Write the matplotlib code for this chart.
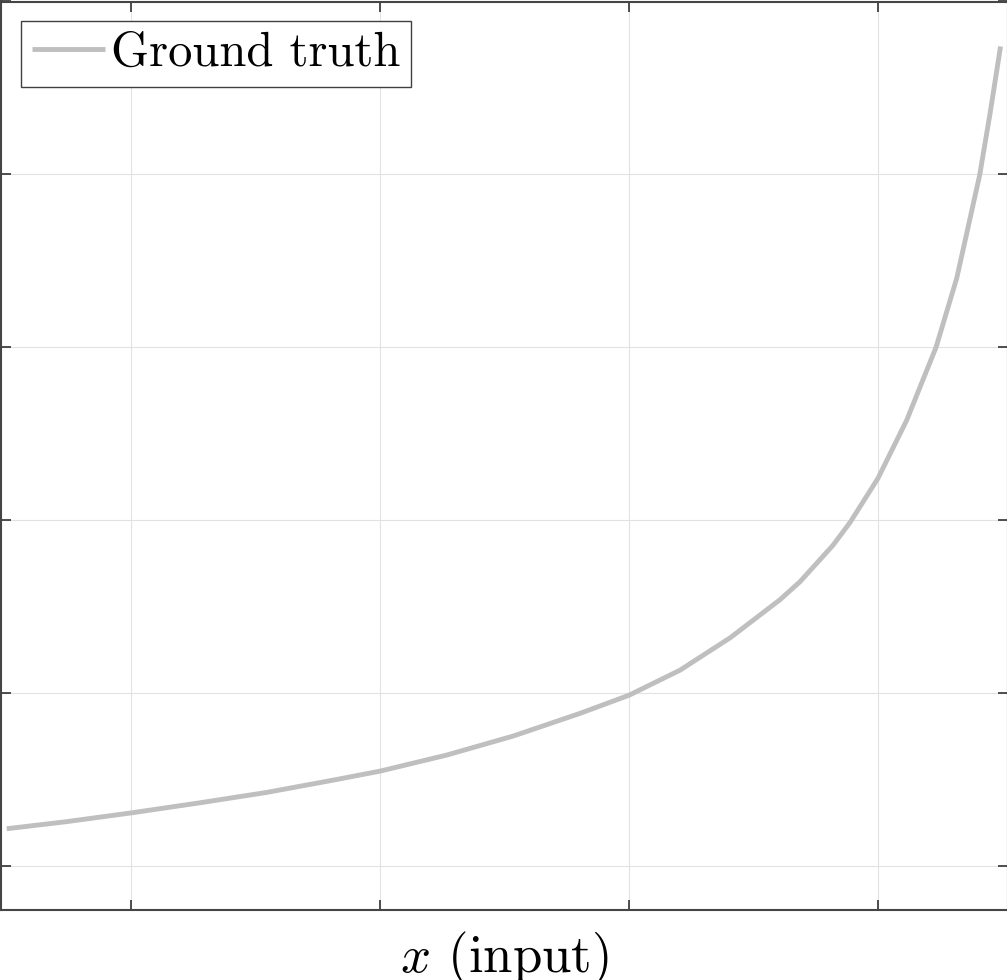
import matplotlib
matplotlib.use("Agg")
import matplotlib.pyplot as plt

plt.rcParams['font.family'] = 'serif'
plt.rcParams['font.serif'] = ['cmr10', 'DejaVu Serif']
plt.rcParams['mathtext.fontset'] = 'cm'
plt.rcParams['axes.unicode_minus'] = False

# Data (x in tick units, y in tick units)
x_vals = [0.501, 0.742, 1.003, 1.277, 1.545, 1.812, 2.0, 2.268, 2.535, 2.803,
          3.0, 3.205, 3.406, 3.606, 3.687, 3.819, 3.888, 4.0, 4.115, 4.233,
          4.316, 4.408, 4.450, 4.477, 4.492]
y_vals = [0.216, 0.257, 0.308, 0.366, 0.426, 0.497, 0.549, 0.642, 0.752, 0.883,
          0.988, 1.133, 1.320, 1.540, 1.645, 1.855, 1.988, 2.243, 2.578, 3.0,
          3.399, 3.994, 4.353, 4.601, 4.740]
x_ticks = [1, 2, 3, 4]
y_ticks = [0, 1, 2, 3, 4, 5]
series_label = 'Ground truth'
x_label = r'$x$ (input)'

W, H = 1007, 980
fig = plt.figure(figsize=(W / 100, H / 100), dpi=100)
ax = fig.add_axes([0.5 / W, 70 / H, 1007.5 / W, 908.5 / H])

ax.plot(x_vals, y_vals, color='#bfbfbf', lw=3.5, label=series_label,
        solid_capstyle='butt', solid_joinstyle='round')

ax.set_xlim(0.476, 4.522)
ax.set_ylim(-0.254, 5.0)
ax.set_xticks(x_ticks)
ax.set_yticks(y_ticks)
ax.tick_params(direction='in', length=7.2, width=1.3, color='#404040',
               top=True, right=True, labelbottom=False, labelleft=False)
ax.grid(True, color='#e2e2e2', lw=0.8)
ax.set_axisbelow(True)
for sp in ax.spines.values():
    sp.set_color('#454545')
    sp.set_linewidth(1.5)

ax.set_xlabel(x_label, fontsize=38, labelpad=14)

leg = ax.legend(loc='upper left', bbox_to_anchor=(0.0203, 0.9785),
                borderaxespad=0, fontsize=35, handlelength=1.5,
                handletextpad=0.14, borderpad=0.22, fancybox=False,
                framealpha=1, edgecolor='#404040')
leg.get_frame().set_linewidth(1.0)

fig.savefig('out.png', dpi=100)
